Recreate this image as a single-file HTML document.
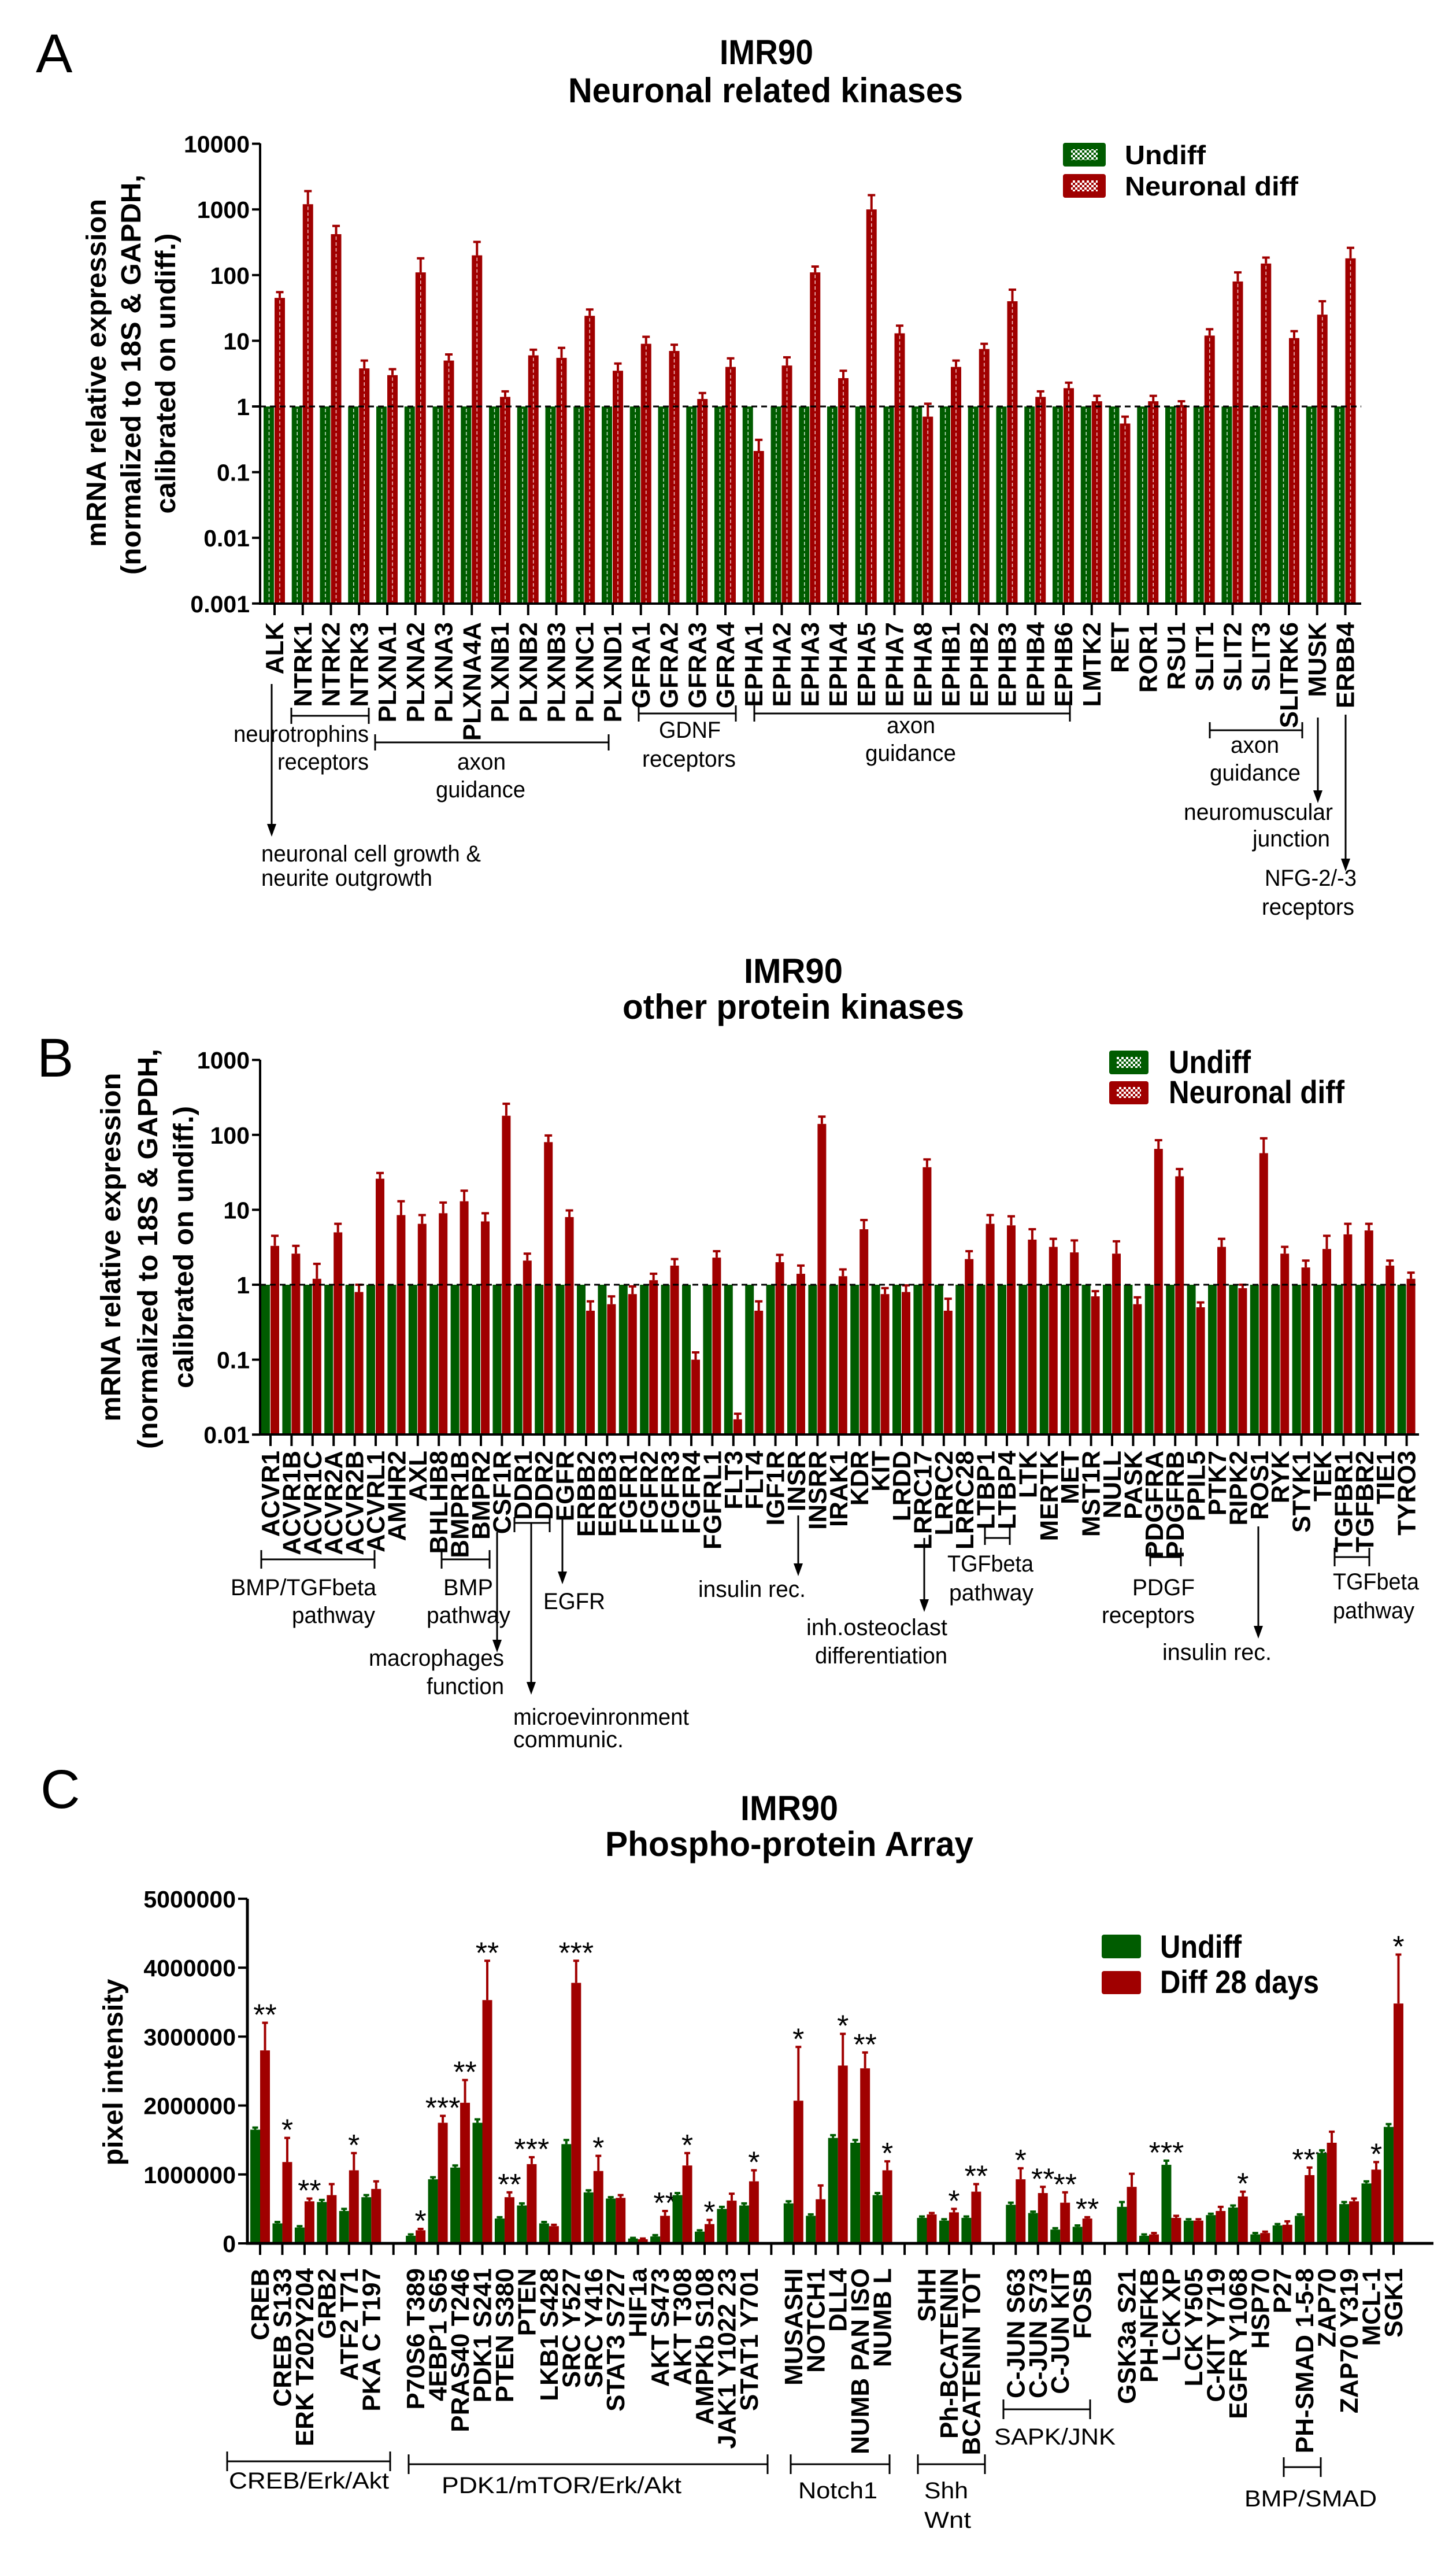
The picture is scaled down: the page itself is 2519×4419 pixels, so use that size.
<!DOCTYPE html>
<html><head><meta charset="utf-8">
<style>
html,body{margin:0;padding:0;background:#fff;}
svg{display:block;}
.an{font-family:"Liberation Sans Narrow","Liberation Sans",sans-serif;font-size:40px;fill:#000;}
.tt{font-family:"Liberation Sans Narrow","Liberation Sans",sans-serif;font-weight:bold;font-size:60px;fill:#000;}
.pl{font-family:"Liberation Sans Narrow","Liberation Sans",sans-serif;font-size:95px;fill:#000;}
.yt{font-family:"Liberation Sans",sans-serif;font-weight:bold;font-size:48px;fill:#000;}
.lg{font-family:"Liberation Sans",sans-serif;font-weight:bold;font-size:46px;fill:#000;}
.lgn{font-family:"Liberation Sans Narrow","Liberation Sans",sans-serif;font-weight:bold;font-size:56px;fill:#000;}
.tk{font-family:"Liberation Sans",sans-serif;font-weight:bold;font-size:41px;fill:#000;}
.xl{font-family:"Liberation Sans",sans-serif;font-weight:bold;font-size:44px;fill:#000;}
.st{font-family:"Liberation Sans",sans-serif;font-size:52px;fill:#000;}
.ln{stroke:#000;stroke-width:3;fill:none;}
</style></head>
<body>
<svg id="fig" width="2519" height="4419" viewBox="0 0 2519 4419" xmlns="http://www.w3.org/2000/svg">
<g>
<text class="pl" x="62" y="125">A</text>
<text class="tt" x="1245" y="111" textLength="162" lengthAdjust="spacingAndGlyphs">IMR90</text>
<text class="tt" x="983" y="177" textLength="683" lengthAdjust="spacingAndGlyphs">Neuronal related kinases</text>
<g>
<text class="yt" transform="translate(183,645) rotate(-90)" text-anchor="middle" textLength="602" lengthAdjust="spacingAndGlyphs">mRNA relative expression</text>
<text class="yt" transform="translate(243,648) rotate(-90)" text-anchor="middle" textLength="692" lengthAdjust="spacingAndGlyphs">(normalized to 18S &amp; GAPDH,</text>
<text class="yt" transform="translate(303,646) rotate(-90)" text-anchor="middle" textLength="485" lengthAdjust="spacingAndGlyphs">calibrated on undiff.)</text>
</g>
<g>
<rect x="1839" y="247" width="74" height="41" rx="4" fill="#005c00"/>
<rect x="1853" y="258" width="46" height="19" fill="url(#chkG)"/>
<text class="lg" x="1946" y="284" textLength="140" lengthAdjust="spacingAndGlyphs">Undiff</text>
<rect x="1839" y="301" width="74" height="41" rx="4" fill="#a00000"/>
<rect x="1853" y="312" width="46" height="19" fill="url(#chkR)"/>
<text class="lg" x="1946" y="338" textLength="300" lengthAdjust="spacingAndGlyphs">Neuronal diff</text>
</g>
<g>
<line class="ln" x1="470" y1="1183" x2="470" y2="1430"/><polygon points="462,1425 478,1425 470,1447"/>
<text class="an" x="452" y="1490" textLength="380" lengthAdjust="spacingAndGlyphs">neuronal cell growth &amp;</text>
<text class="an" x="452" y="1532" textLength="296" lengthAdjust="spacingAndGlyphs">neurite outgrowth</text>
<path class="ln" d="M504 1238H638M504 1224V1252M638 1224V1252"/>
<text class="an" x="404" y="1283" textLength="234" lengthAdjust="spacingAndGlyphs">neurotrophins</text>
<text class="an" x="480" y="1331" textLength="158" lengthAdjust="spacingAndGlyphs">receptors</text>
<path class="ln" d="M649 1284H1053M649 1270V1298M1053 1270V1298"/>
<text class="an" x="791" y="1331" textLength="84" lengthAdjust="spacingAndGlyphs">axon</text>
<text class="an" x="754" y="1379" textLength="155" lengthAdjust="spacingAndGlyphs">guidance</text>
<path class="ln" d="M1105 1234H1273M1105 1220V1248M1273 1220V1248"/>
<text class="an" x="1140" y="1276" textLength="107" lengthAdjust="spacingAndGlyphs">GDNF</text>
<text class="an" x="1111" y="1326" textLength="162" lengthAdjust="spacingAndGlyphs">receptors</text>
<path class="ln" d="M1305 1234H1851M1305 1220V1248M1851 1220V1248"/>
<text class="an" x="1534" y="1268" textLength="84" lengthAdjust="spacingAndGlyphs">axon</text>
<text class="an" x="1497" y="1316" textLength="157" lengthAdjust="spacingAndGlyphs">guidance</text>
<path class="ln" d="M2093 1263H2253M2093 1249V1277M2253 1249V1277"/>
<text class="an" x="2129" y="1302" textLength="84" lengthAdjust="spacingAndGlyphs">axon</text>
<text class="an" x="2093" y="1350" textLength="157" lengthAdjust="spacingAndGlyphs">guidance</text>
<line class="ln" x1="2280" y1="1241" x2="2280" y2="1372"/><polygon points="2272,1367 2288,1367 2280,1389"/>
<text class="an" x="2048" y="1418" textLength="258" lengthAdjust="spacingAndGlyphs">neuromuscular</text>
<text class="an" x="2167" y="1464" textLength="134" lengthAdjust="spacingAndGlyphs">junction</text>
<line class="ln" x1="2328" y1="1236" x2="2328" y2="1490"/><polygon points="2320,1485 2336,1485 2328,1507"/>
<text class="an" x="2188" y="1532" textLength="159" lengthAdjust="spacingAndGlyphs">NFG-2/-3</text>
<text class="an" x="2183" y="1582" textLength="160" lengthAdjust="spacingAndGlyphs">receptors</text>
</g>
</g>
<g>
<text class="pl" x="64" y="1862">B</text>
<text class="tt" x="1287" y="1700" textLength="171" lengthAdjust="spacingAndGlyphs">IMR90</text>
<text class="tt" x="1077" y="1762" textLength="591" lengthAdjust="spacingAndGlyphs">other protein kinases</text>
<g>
<text class="yt" transform="translate(208,2157) rotate(-90)" text-anchor="middle" textLength="603" lengthAdjust="spacingAndGlyphs">mRNA relative expression</text>
<text class="yt" transform="translate(272,2160) rotate(-90)" text-anchor="middle" textLength="692" lengthAdjust="spacingAndGlyphs">(normalized to 18S &amp; GAPDH,</text>
<text class="yt" transform="translate(334,2157) rotate(-90)" text-anchor="middle" textLength="488" lengthAdjust="spacingAndGlyphs">calibrated on undiff.)</text>
</g>
<g>
<rect x="1919" y="1817" width="68" height="41" rx="4" fill="#005c00"/>
<rect x="1932" y="1828" width="42" height="19" fill="url(#chkG)"/>
<text class="lgn" x="2022" y="1856" textLength="142" lengthAdjust="spacingAndGlyphs">Undiff</text>
<rect x="1919" y="1870" width="68" height="40" rx="4" fill="#a00000"/>
<rect x="1932" y="1880" width="42" height="19" fill="url(#chkR)"/>
<text class="lgn" x="2022" y="1908" textLength="304" lengthAdjust="spacingAndGlyphs">Neuronal diff</text>
</g>
<g>
<path class="ln" d="M452 2697H648M452 2681V2713M648 2681V2713"/>
<text class="an" x="399" y="2759" textLength="252" lengthAdjust="spacingAndGlyphs">BMP/TGFbeta</text>
<text class="an" x="505" y="2807" textLength="144" lengthAdjust="spacingAndGlyphs">pathway</text>
<path class="ln" d="M764 2697H847M764 2681V2713M847 2681V2713"/>
<text class="an" x="767" y="2759" textLength="86" lengthAdjust="spacingAndGlyphs">BMP</text>
<text class="an" x="738" y="2807" textLength="145" lengthAdjust="spacingAndGlyphs">pathway</text>
<line class="ln" x1="860" y1="2650" x2="860" y2="2840"/><polygon points="852,2836 868,2836 860,2858"/>
<text class="an" x="638" y="2881" textLength="234" lengthAdjust="spacingAndGlyphs">macrophages</text>
<text class="an" x="738" y="2930" textLength="134" lengthAdjust="spacingAndGlyphs">function</text>
<path class="ln" d="M890 2634H951M890 2624V2650M951 2624V2650"/>
<line class="ln" x1="919" y1="2634" x2="919" y2="2913"/><polygon points="911,2909 927,2909 919,2931"/>
<text class="an" x="888" y="2983" textLength="304" lengthAdjust="spacingAndGlyphs">microevinronment</text>
<text class="an" x="888" y="3022" textLength="191" lengthAdjust="spacingAndGlyphs">communic.</text>
<line class="ln" x1="973" y1="2627" x2="973" y2="2722"/><polygon points="965,2718 981,2718 973,2740"/>
<text class="an" x="940" y="2783" textLength="107" lengthAdjust="spacingAndGlyphs">EGFR</text>
<line class="ln" x1="1381" y1="2621" x2="1381" y2="2708"/><polygon points="1373,2704 1389,2704 1381,2726"/>
<text class="an" x="1208" y="2762" textLength="186" lengthAdjust="spacingAndGlyphs">insulin rec.</text>
<line class="ln" x1="1599" y1="2660" x2="1599" y2="2770"/><polygon points="1591,2766 1607,2766 1599,2788"/>
<text class="an" x="1395" y="2828" textLength="244" lengthAdjust="spacingAndGlyphs">inh.osteoclast</text>
<text class="an" x="1410" y="2877" textLength="229" lengthAdjust="spacingAndGlyphs">differentiation</text>
<path class="ln" d="M1704 2660H1747M1704 2640V2672M1747 2640V2672"/>
<text class="an" x="1639" y="2718" textLength="149" lengthAdjust="spacingAndGlyphs">TGFbeta</text>
<text class="an" x="1642" y="2768" textLength="146" lengthAdjust="spacingAndGlyphs">pathway</text>
<path class="ln" d="M1990 2693H2043M1990 2677V2709M2043 2677V2709"/>
<text class="an" x="1959" y="2759" textLength="108" lengthAdjust="spacingAndGlyphs">PDGF</text>
<text class="an" x="1906" y="2807" textLength="161" lengthAdjust="spacingAndGlyphs">receptors</text>
<line class="ln" x1="2177" y1="2640" x2="2177" y2="2816"/><polygon points="2169,2812 2185,2812 2177,2834"/>
<text class="an" x="2011" y="2871" textLength="189" lengthAdjust="spacingAndGlyphs">insulin rec.</text>
<path class="ln" d="M2309 2693H2369M2309 2677V2709M2369 2677V2709"/>
<text class="an" x="2306" y="2749" textLength="149" lengthAdjust="spacingAndGlyphs">TGFbeta</text>
<text class="an" x="2306" y="2799" textLength="141" lengthAdjust="spacingAndGlyphs">pathway</text>
</g>
</g>
<g>
<text class="pl" x="70" y="3127">C</text>
<text class="tt" x="1281" y="3148" textLength="169" lengthAdjust="spacingAndGlyphs">IMR90</text>
<text class="tt" x="1047" y="3210" textLength="637" lengthAdjust="spacingAndGlyphs">Phospho-protein Array</text>
<text class="yt" transform="translate(212,3584) rotate(-90)" text-anchor="middle" textLength="323" lengthAdjust="spacingAndGlyphs">pixel intensity</text>
<g>
<rect x="1906" y="3346" width="68" height="41" rx="4" fill="#005c00"/>
<text class="lgn" x="2007" y="3386" textLength="141" lengthAdjust="spacingAndGlyphs">Undiff</text>
<rect x="1906" y="3409" width="68" height="40" rx="4" fill="#a00000"/>
<text class="lgn" x="2007" y="3447" textLength="275" lengthAdjust="spacingAndGlyphs">Diff 28 days</text>
</g>
<g>
<path class="ln" d="M393 4257H675M393 4240V4274M675 4240V4274"/>
<text class="an" x="396" y="4304" textLength="277" lengthAdjust="spacingAndGlyphs">CREB/Erk/Akt</text>
<path class="ln" d="M707 4262H1328M707 4245V4279M1328 4245V4279"/>
<text class="an" x="764" y="4312" textLength="415" lengthAdjust="spacingAndGlyphs">PDK1/mTOR/Erk/Akt</text>
<path class="ln" d="M1368 4262H1539M1368 4245V4279M1539 4245V4279"/>
<text class="an" x="1381" y="4321" textLength="137" lengthAdjust="spacingAndGlyphs">Notch1</text>
<path class="ln" d="M1588 4262H1704M1588 4245V4279M1704 4245V4279"/>
<text class="an" x="1599" y="4321" textLength="76" lengthAdjust="spacingAndGlyphs">Shh</text>
<text class="an" x="1599" y="4372" textLength="81" lengthAdjust="spacingAndGlyphs">Wnt</text>
<path class="ln" d="M1736 4167H1886M1736 4150V4184M1886 4150V4184"/>
<text class="an" x="1720" y="4228" textLength="210" lengthAdjust="spacingAndGlyphs">SAPK/JNK</text>
<path class="ln" d="M2221 4267H2285M2221 4250V4284M2285 4250V4284"/>
<text class="an" x="2153" y="4335" textLength="229" lengthAdjust="spacingAndGlyphs">BMP/SMAD</text>
</g>
</g>
<defs>
<pattern id="chkG" width="8" height="8" patternUnits="userSpaceOnUse"><rect width="8" height="8" fill="#005c00"/><rect width="4" height="4" fill="#fff"/><rect x="4" y="4" width="4" height="4" fill="#fff"/></pattern>
<pattern id="chkR" width="8" height="8" patternUnits="userSpaceOnUse"><rect width="8" height="8" fill="#a00000"/><rect width="4" height="4" fill="#fff"/><rect x="4" y="4" width="4" height="4" fill="#fff"/></pattern>
</defs>
<g id="plots"></g>
</svg>
<script>
const A_cats = ["ALK","NTRK1","NTRK2","NTRK3","PLXNA1","PLXNA2","PLXNA3","PLXNA4A","PLXNB1","PLXNB2","PLXNB3","PLXNC1","PLXND1","GFRA1","GFRA2","GFRA3","GFRA4","EPHA1","EPHA2","EPHA3","EPHA4","EPHA5","EPHA7","EPHA8","EPHB1","EPHB2","EPHB3","EPHB4","EPHB6","LMTK2","RET","ROR1","RSU1","SLIT1","SLIT2","SLIT3","SLITRK6","MUSK","ERBB4"];
const A_undiff = [1,1,1,1,1,1,1,1,1,1,1,1,1,1,1,1,1,1,1,1,1,1,1,1,1,1,1,1,1,1,1,1,1,1,1,1,1,1,1];
const A_diff = [45,1200,420,3.8,3,110,5,200,1.4,6,5.5,24,3.5,9,7,1.3,4,0.21,4.2,110,2.7,1000,13,0.7,4,7.5,40,1.4,1.9,1.2,0.55,1.2,1.05,12,80,150,11,25,180];
const A_diffErr = [55,1900,560,5,3.7,180,6.2,320,1.7,7.3,7.8,30,4.5,11.5,8.7,1.6,5.4,0.31,5.6,135,3.5,1650,17,1.1,5,9,60,1.7,2.3,1.45,0.7,1.45,1.2,15,110,185,14,40,260];
const A_ticks = [10000,1000,100,10,1,0.1,0.01,0.001];
const A_tickLabels = ["10000","1000","100","10","1","0.1","0.01","0.001"];
const B_cats = ["ACVR1","ACVR1B","ACVR1C","ACVR2A","ACVR2B","ACVRL1","AMHR2","AXL","BHLHB8","BMPR1B","BMPR2","CSF1R","DDR1","DDR2","EGFR","ERBB2","ERBB3","FGFR1","FGFR2","FGFR3","FGFR4","FGFRL1","FLT3","FLT4","IGF1R","INSR","INSRR","IRAK1","KDR","KIT","LRDD","LRRC17","LRRC2","LRRC28","LTBP1","LTBP4","LTK","MERTK","MET","MST1R","NULL","PASK","PDGFRA","PDGFRB","PPIL5","PTK7","RIPK2","ROS1","RYK","STYK1","TEK","TGFBR1","TGFBR2","TIE1","TYRO3"];
const B_undiff = [1,1,1,1,1,1,1,1,1,1,1,1,1,1,1,1,1,1,1,1,1,1,1,1,1,1,1,1,1,1,1,1,1,1,1,1,1,1,1,1,1,1,1,1,1,1,1,1,1,1,1,1,1,1,1];
const B_diff = [3.3,2.6,1.2,5,0.8,26,8.5,6.5,9,13,7,180,2.1,80,8,0.45,0.55,0.75,1.15,1.8,0.1,2.3,0.016,0.45,2,1.4,140,1.3,5.5,0.75,0.8,37,0.45,2.2,6.5,6.2,4,3.2,2.7,0.7,2.6,0.55,65,28,0.5,3.2,0.9,57,2.6,1.7,3,4.7,5.3,1.8,1.2];
const B_diffErr = [4.5,3.3,1.9,6.5,1,31,13,8.5,12.5,18,9,260,2.6,98,9.8,0.6,0.7,0.95,1.4,2.2,0.125,2.8,0.019,0.6,2.5,1.8,175,1.6,7.3,0.9,0.98,47,0.65,2.8,8.5,8.2,5.5,4.1,3.9,0.82,3.8,0.68,85,35,0.58,4.1,1,90,3.2,2.1,4.5,6.5,6.5,2.1,1.45];
const B_ticks = [1000,100,10,1,0.1,0.01];
const B_tickLabels = ["1000","100","10","1","0.1","0.01"];
const C_cats = ["CREB","CREB S133","ERK T202Y204","GRB2","ATF2 T71","PKA C T197","","P70S6 T389","4EBP1 S65","PRAS40 T246","PDK1 S241","PTEN S380","PTEN","LKB1 S428","SRC Y527","SRC Y416","STAT3 S727","HIF1a","AKT S473","AKT T308","AMPKb S108","JAK1 Y1022 23","STAT1 Y701","","MUSASHI","NOTCH1","DLL4","NUMB PAN ISO","NUMB L","","SHH","Ph-BCATENIN","BCATENIN TOT","","C-JUN S63","C-JUN S73","C-JUN KIT","FOSB","","GSK3a S21","PH-NFKB","LCK XP","LCK Y505","C-KIT Y719","EGFR Y1068","HSP70","P27","PH-SMAD 1-5-8","ZAP70","ZAP70 Y319","MCL-1","SGK1"];
const C_undiff = [1.65,0.29,0.23,0.6,0.47,0.67,null,0.11,0.93,1.1,1.75,0.36,0.55,0.29,1.44,0.74,0.65,0.07,0.1,0.7,0.17,0.5,0.55,null,0.58,0.4,1.53,1.46,0.7,null,0.37,0.33,0.37,null,0.56,0.44,0.2,0.24,null,0.53,0.11,1.14,0.33,0.41,0.52,0.13,0.26,0.4,1.31,0.57,0.87,1.69];
const C_undiffErr = [1.68,0.31,0.25,0.63,0.5,0.7,null,0.13,0.96,1.13,1.8,0.38,0.58,0.31,1.5,0.77,0.67,0.08,0.12,0.73,0.19,0.53,0.58,null,0.61,0.42,1.57,1.5,0.73,null,0.39,0.35,0.39,null,0.59,0.46,0.22,0.26,null,0.6,0.13,1.2,0.35,0.43,0.55,0.15,0.28,0.42,1.35,0.6,0.9,1.73];
const C_diff = [2.8,1.18,0.61,0.7,1.06,0.79,null,0.19,1.75,2.04,3.53,0.67,1.15,0.25,3.78,1.05,0.66,0.06,0.4,1.13,0.28,0.62,0.9,null,2.07,0.64,2.58,2.54,1.06,null,0.42,0.45,0.75,null,0.93,0.73,0.59,0.36,null,0.82,0.13,0.37,0.33,0.47,0.68,0.15,0.27,0.99,1.46,0.61,1.07,3.48];
const C_diffErr = [3.2,1.53,0.65,0.86,1.31,0.9,null,0.21,1.85,2.37,4.1,0.74,1.25,0.27,4.1,1.27,0.7,0.07,0.47,1.31,0.34,0.72,1.06,null,2.85,0.84,3.04,2.77,1.19,null,0.44,0.5,0.86,null,1.09,0.82,0.74,0.38,null,1.01,0.15,0.4,0.35,0.53,0.75,0.17,0.32,1.1,1.62,0.65,1.18,4.19];
const C_stars = ["**","*","**","","*","",null,"*","***","**","**","**","***","","***","*","","","**","*","*","","*",null,"*","","*","**","*",null,"","*","**",null,"*","**","**","**",null,"","","***","","","*","","","***","","","*","*"];
const C_ticks = [0,1,2,3,4,5];
const C_tickLabels = ["0","1000000","2000000","3000000","4000000","5000000"];

const NS = "http://www.w3.org/2000/svg";
const root = document.getElementById("plots");
function mk(tag, attrs, parent){ const e=document.createElementNS(NS,tag); for(const k in attrs) e.setAttribute(k,attrs[k]); (parent||root).appendChild(e); return e; }

const yA = v => 703 - Math.log10(v)*113.6;
const xA = i => 475 + i*48.75;
const yB = v => 2222 - Math.log10(v)*129.6;
const xB = i => 468 + i*36.4;
const yC = v => 3880 - v*119.2;
const xC = i => 450 + i*38.45;

const GREEN="#005c00", RED="#a00000";

function logPanel(id, cats, und, dif, err, ticks, tlabels, xf, yf, bottom, top, axisEnd, bw, labelTop, pattern){
  const g = mk("g",{});
  
  
  const yv = yf;
  cats.forEach((c,i)=>{
    const x = xf(i);
    const gy = yv(und[i]);
    const gb = mk("rect",{x:x-bw,y:Math.min(gy,bottom),width:bw-1,height:Math.abs(bottom-gy),fill:GREEN},g);
    
    
    const ry = yv(dif[i]);
    const rb = mk("rect",{x:x,y:ry,width:bw-1,height:bottom-ry,fill:RED},g);
    
    
    if(pattern){
      mk("line",{x1:x-bw/2,x2:x-bw/2,y1:gy+4,y2:bottom,stroke:"#cfe8cf","stroke-width":1.5,"stroke-dasharray":"6 4"},g);
      mk("line",{x1:x+bw/2-0.5,x2:x+bw/2-0.5,y1:ry+4,y2:bottom,stroke:"#f2c8c8","stroke-width":1.5,"stroke-dasharray":"6 4"},g);
    }
    const ey = yv(err[i]);
    const eb = mk("path",{d:`M${x+bw/2-0.5} ${ry}V${ey}M${x+bw/2-7} ${ey}H${x+bw/2+6}`,stroke:RED,"stroke-width":4,fill:"none"},g);
    
    
    mk("line",{x1:x,x2:x,y1:bottom,y2:bottom+20,stroke:"#000","stroke-width":4},g);
    const t = mk("text",{class:"xl","text-anchor":"end",transform:`translate(${x+15},${labelTop}) rotate(-90)`},g);
    t.textContent = c;
    
    
  });
  mk("line",{x1:450,x2:axisEnd,y1:yv(1),y2:yv(1),stroke:"#000","stroke-width":3,"stroke-dasharray":"10 7"},g);
  const ax = mk("path",{d:`M450 ${top}V${bottom}H${axisEnd}`,stroke:"#000","stroke-width":4,fill:"none"},g);
  
  
  ticks.forEach((v,k)=>{
    const y = yv(v);
    mk("line",{x1:436,x2:450,y1:y,y2:y,stroke:"#000","stroke-width":4},g);
    const t = mk("text",{class:"tk",x:432,y:y+15,"text-anchor":"end"},g);
    t.textContent = tlabels[k];
    
    
  });
}
logPanel("panel-a", A_cats, A_undiff, A_diff, A_diffErr, A_ticks, A_tickLabels, xA, yA, 1044, 248, 2355, 19, 1076, true);
logPanel("panel-b", B_cats, B_undiff, B_diff, B_diffErr, B_ticks, B_tickLabels, xB, yB, 2481, 1833, 2455, 16, 2509, false);

(function(){
  const g = mk("g",{});
  
  
  const bottom = yC(0), bw = 17;
  C_cats.forEach((c,i)=>{
    const x = xC(i);
    mk("line",{x1:x,x2:x,y1:bottom,y2:bottom+20,stroke:"#000","stroke-width":4},g);
    if(C_undiff[i]===null) return;
    const gy = yC(C_undiff[i]), gey = yC(C_undiffErr[i]);
    const gb = mk("rect",{x:x-bw,y:gy,width:bw,height:bottom-gy,fill:GREEN},g);
    
    
    mk("path",{d:`M${x-bw/2} ${gy}V${gey}M${x-bw/2-5} ${gey}H${x-bw/2+5}`,stroke:GREEN,"stroke-width":4,fill:"none"},g);
    const ry = yC(C_diff[i]), rey = yC(C_diffErr[i]);
    const rb = mk("rect",{x:x,y:ry,width:bw,height:bottom-ry,fill:RED},g);
    
    
    const eb = mk("path",{d:`M${x+bw/2} ${ry}V${rey}M${x+bw/2-5} ${rey}H${x+bw/2+5}`,stroke:RED,"stroke-width":4,fill:"none"},g);
    
    
    if(C_stars[i]){
      const top = (c==="LCK XP") ? gey : Math.min(rey, gey);
      const sx = (c==="LCK XP") ? x-bw/2 : x+bw/2;
      const s = mk("text",{class:"st",x:sx,y:top+4,"text-anchor":"middle"},g);
      s.textContent = C_stars[i];
      
      
    }
    const t = mk("text",{class:"xl","text-anchor":"end",transform:`translate(${x+15},3923) rotate(-90)`},g);
    t.textContent = c;
    
    
  });
  const ax = mk("path",{d:`M428 ${yC(5)}V${bottom}H2480`,stroke:"#000","stroke-width":5,fill:"none"},g);
  
  
  C_ticks.forEach((v,k)=>{
    const y = yC(v);
    mk("line",{x1:412,x2:428,y1:y,y2:y,stroke:"#000","stroke-width":4},g);
    const t = mk("text",{class:"tk",x:408,y:y+15,"text-anchor":"end"},g);
    t.textContent = C_tickLabels[k];
    
    
  });
})();
</script>
</body></html>
